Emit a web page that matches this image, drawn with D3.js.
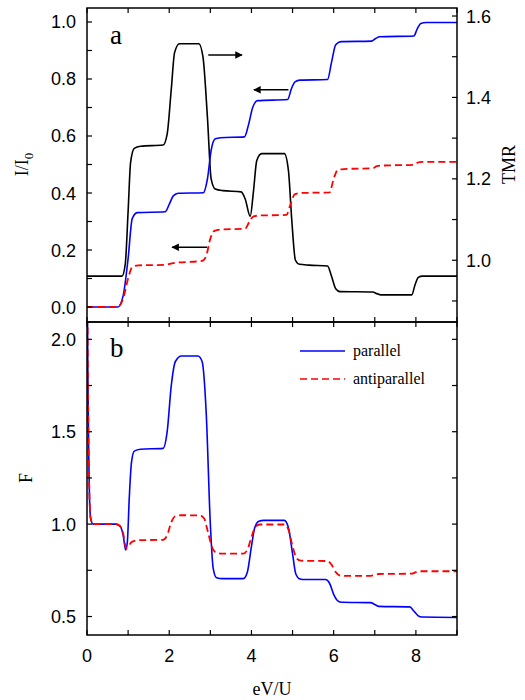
<!DOCTYPE html>
<html>
<head>
<meta charset="utf-8">
<script src="https://cdn.jsdelivr.net/npm/d3@7"></script>
<style>
  body { margin: 0; background: #fff; }
  svg { display: block; }
  .tick-label { font-family: "Liberation Sans", Arial, sans-serif; font-size: 18px; fill: #000; }
  .title { font-family: "Liberation Serif", "Times New Roman", serif; font-size: 18px; fill: #000; }
</style>
</head>
<body>
<div id="chart"></div>
<script>
// Panel a: current of the parallel (P) and antiparallel (AP) set-up, and TMR
var currentP = [[0,0],[0.75,0],[0.88,0.04],[1.0,0.17],[1.1,0.31],[1.22,0.331],[1.9,0.334],[2.0,0.36],[2.1,0.39],[2.22,0.399],[2.83,0.401],[2.93,0.45],[3.02,0.55],[3.12,0.59],[3.25,0.594],[3.83,0.597],[3.93,0.64],[4.03,0.7],[4.15,0.724],[4.88,0.728],[4.97,0.765],[5.06,0.79],[5.18,0.796],[5.85,0.798],[5.95,0.86],[6.05,0.92],[6.18,0.931],[6.92,0.933],[7.02,0.942],[7.12,0.948],[7.95,0.951],[8.03,0.975],[8.12,0.995],[8.25,0.998],[9,0.998]];
var currentAP = [[0,0],[0.75,0],[0.88,0.03],[1.0,0.1],[1.1,0.14],[1.25,0.146],[1.9,0.148],[2.1,0.154],[2.8,0.162],[2.9,0.18],[3.0,0.24],[3.1,0.267],[3.25,0.272],[3.85,0.275],[3.95,0.3],[4.05,0.318],[4.2,0.321],[4.85,0.323],[4.95,0.36],[5.05,0.395],[5.2,0.4],[5.9,0.402],[6.0,0.45],[6.1,0.481],[6.25,0.484],[6.95,0.487],[7.05,0.494],[7.15,0.496],[7.95,0.499],[8.05,0.507],[8.15,0.509],[9,0.509]];
var tmr = [[0,0.961],[0.85,0.961],[0.93,0.99],[1.0,1.12],[1.06,1.24],[1.15,1.275],[1.3,1.28],[1.85,1.283],[1.95,1.31],[2.05,1.42],[2.13,1.51],[2.25,1.532],[2.72,1.532],[2.82,1.5],[2.93,1.35],[3.02,1.2],[3.12,1.175],[3.3,1.171],[3.75,1.168],[3.85,1.15],[3.97,1.108],[4.05,1.17],[4.13,1.245],[4.25,1.262],[4.8,1.262],[4.9,1.22],[4.98,1.1],[5.07,1.0],[5.17,0.99],[5.4,0.988],[5.85,0.986],[5.95,0.96],[6.05,0.93],[6.15,0.923],[6.95,0.922],[7.05,0.918],[7.15,0.915],[7.9,0.915],[7.98,0.94],[8.06,0.958],[8.16,0.961],[9,0.961]];

// Panel b: Fano factor
var fanoP = [[0,2.6],[0.02,1.85],[0.04,1.4],[0.06,1.15],[0.09,1.03],[0.15,1.0],[0.7,1.0],[0.8,0.99],[0.88,0.94],[0.94,0.86],[0.98,0.9],[1.03,1.15],[1.08,1.33],[1.15,1.395],[1.3,1.405],[1.85,1.41],[1.95,1.5],[2.05,1.75],[2.15,1.88],[2.3,1.91],[2.7,1.91],[2.8,1.88],[2.9,1.6],[3.0,1.0],[3.07,0.76],[3.15,0.71],[3.3,0.705],[3.8,0.705],[3.9,0.74],[4.0,0.88],[4.08,0.98],[4.18,1.015],[4.3,1.02],[4.8,1.02],[4.9,0.98],[5.0,0.84],[5.08,0.73],[5.18,0.703],[5.3,0.7],[5.8,0.7],[5.9,0.68],[6.0,0.62],[6.1,0.585],[6.2,0.577],[6.9,0.575],[7.0,0.565],[7.1,0.555],[7.85,0.552],[7.95,0.53],[8.05,0.505],[8.15,0.497],[9,0.495]];
var fanoAP = [[0,2.6],[0.02,1.85],[0.04,1.4],[0.06,1.15],[0.09,1.03],[0.15,1.0],[0.7,1.0],[0.8,0.99],[0.88,0.95],[0.95,0.87],[1.0,0.88],[1.1,0.905],[1.25,0.913],[1.85,0.915],[1.95,0.94],[2.05,1.01],[2.15,1.043],[2.3,1.048],[2.75,1.047],[2.85,1.03],[2.95,0.95],[3.05,0.87],[3.15,0.845],[3.3,0.84],[3.8,0.84],[3.9,0.86],[4.0,0.93],[4.1,0.985],[4.2,0.998],[4.8,0.998],[4.9,0.97],[5.0,0.88],[5.1,0.815],[5.2,0.802],[5.85,0.8],[5.95,0.78],[6.05,0.74],[6.15,0.722],[6.3,0.72],[6.9,0.72],[7.0,0.725],[7.1,0.73],[7.9,0.732],[8.0,0.74],[8.1,0.745],[9,0.745]];

// Ticks and labels
var xTicks = [0, 1, 2, 3, 4, 5, 6, 7, 8, 9];
var xLabels = [0, 2, 4, 6, 8];
var iTicks = [0, 0.1, 0.2, 0.3, 0.4, 0.5, 0.6, 0.7, 0.8, 0.9, 1.0];
var iLabels = [0, 0.2, 0.4, 0.6, 0.8, 1.0];
var tmrTicks = [0.9, 1.0, 1.1, 1.2, 1.3, 1.4, 1.5, 1.6];
var tmrLabels = [1.0, 1.2, 1.4, 1.6];
var fTicks = [0.5, 0.75, 1.0, 1.25, 1.5, 1.75, 2.0];
var fLabels = [0.5, 1.0, 1.5, 2.0];

// Arrows pointing to the axis of each curve: [x from, x to, I/I0]
var arrows = [[2.95, 3.77, 0.884], [4.9, 4.06, 0.762], [2.92, 2.07, 0.21]];

var width = 525, height = 700;
var left = 87, right = 457;
var topA = 8, botA = 322, topB = 322, botB = 635;

var svg = d3.select("#chart").append("svg")
    .attr("width", width)
    .attr("height", height);

var x = d3.scaleLinear().domain([0, 9]).range([left, right]);
var yI = d3.scaleLinear().domain([-0.0526, 1.0491]).range([botA, topA]);
var yT = d3.scaleLinear().domain([0.8483, 1.6197]).range([botA, topA]);
var yF = d3.scaleLinear().domain([0.4, 2.0937]).range([botB, topB]);

var defs = svg.append("defs");
defs.append("clipPath").attr("id", "clipA")
    .append("rect").attr("x", left).attr("y", topA).attr("width", right - left).attr("height", botA - topA);
defs.append("clipPath").attr("id", "clipB")
    .append("rect").attr("x", left).attr("y", topB).attr("width", right - left).attr("height", botB - topB);
defs.append("marker")
    .attr("id", "head")
    .attr("viewBox", "0 0 10 10")
    .attr("refX", 9).attr("refY", 5)
    .attr("markerWidth", 7).attr("markerHeight", 5)
    .attr("markerUnits", "strokeWidth")
    .attr("orient", "auto")
  .append("path")
    .attr("d", "M0,0 L10,5 L0,10 Z")
    .attr("fill", "#000");

function drawLine(g, data, yScale, color, dash, w) {
    var line = d3.line()
        .x(function(d) { return x(d[0]); })
        .y(function(d) { return yScale(d[1]); })
        .curve(d3.curveMonotoneX);
    g.append("path")
        .datum(data)
        .attr("d", line)
        .attr("fill", "none")
        .attr("stroke", color)
        .attr("stroke-width", w)
        .attr("stroke-dasharray", dash);
}

// Inward ticks on all four sides of a panel
function frameTicks(g, yScale, yVals, yTop, yBot, rightScale, rightVals) {
    var t = 5;
    g.selectAll(".xb").data(xTicks).enter().append("line")
        .attr("x1", function(d) { return x(d); }).attr("x2", function(d) { return x(d); })
        .attr("y1", yBot).attr("y2", yBot - t);
    g.selectAll(".xt").data(xTicks).enter().append("line")
        .attr("x1", function(d) { return x(d); }).attr("x2", function(d) { return x(d); })
        .attr("y1", yTop).attr("y2", yTop + t);
    g.selectAll(".yl").data(yVals).enter().append("line")
        .attr("x1", left).attr("x2", left + t)
        .attr("y1", function(d) { return yScale(d); }).attr("y2", function(d) { return yScale(d); });
    g.selectAll(".yr").data(rightVals).enter().append("line")
        .attr("x1", right).attr("x2", right - t)
        .attr("y1", function(d) { return rightScale(d); }).attr("y2", function(d) { return rightScale(d); });
    g.selectAll("line").attr("stroke", "#000").attr("stroke-width", 1.2);
    g.append("rect")
        .attr("x", left).attr("y", yTop)
        .attr("width", right - left).attr("height", yBot - yTop)
        .attr("fill", "none").attr("stroke", "#000").attr("stroke-width", 1.5);
}

// ---- panel a ----
var gA = svg.append("g");
var curvesA = gA.append("g").attr("clip-path", "url(#clipA)");
drawLine(curvesA, tmr, yT, "#000", null, 1.6);
drawLine(curvesA, currentP, yI, "#0000ff", null, 1.6);
drawLine(curvesA, currentAP, yI, "#ff0000", "7,4", 1.8);
frameTicks(gA.append("g"), yI, iTicks, topA, botA, yT, tmrTicks);

gA.selectAll(".arrow").data(arrows).enter().append("line")
    .attr("x1", function(d) { return x(d[0]); })
    .attr("x2", function(d) { return x(d[1]); })
    .attr("y1", function(d) { return yI(d[2]); })
    .attr("y2", function(d) { return yI(d[2]); })
    .attr("stroke", "#000").attr("stroke-width", 1.5)
    .attr("marker-end", "url(#head)");

gA.selectAll(".li").data(iLabels).enter().append("text")
    .attr("class", "tick-label")
    .attr("x", left - 11)
    .attr("y", function(d) { return yI(d) + 6.5; })
    .attr("text-anchor", "end")
    .text(function(d) { return d.toFixed(1); });
gA.selectAll(".lt").data(tmrLabels).enter().append("text")
    .attr("class", "tick-label")
    .attr("x", right + 9)
    .attr("y", function(d) { return yT(d) + 6.5; })
    .text(function(d) { return d.toFixed(1); });

gA.append("text").attr("class", "title")
    .attr("x", 110).attr("y", 44)
    .style("font-size", "27px")
    .text("a");

var iTitle = gA.append("text").attr("class", "title")
    .attr("transform", "translate(28," + (yI(0.5)) + ") rotate(-90)")
    .attr("text-anchor", "middle");
iTitle.append("tspan").text("I/I");
iTitle.append("tspan").attr("dy", 5).style("font-size", "13px").text("0");

gA.append("text").attr("class", "title")
    .attr("transform", "translate(515," + (yI(0.5)) + ") rotate(-90)")
    .attr("text-anchor", "middle")
    .text("TMR");

// ---- panel b ----
var gB = svg.append("g");
var curvesB = gB.append("g").attr("clip-path", "url(#clipB)");
drawLine(curvesB, fanoP, yF, "#0000ff", null, 1.6);
drawLine(curvesB, fanoAP, yF, "#ff0000", "7,4", 1.8);
frameTicks(gB.append("g"), yF, fTicks, topB, botB, yF, fTicks);

gB.selectAll(".lf").data(fLabels).enter().append("text")
    .attr("class", "tick-label")
    .attr("x", left - 11)
    .attr("y", function(d) { return yF(d) + 6.5; })
    .attr("text-anchor", "end")
    .text(function(d) { return d.toFixed(1); });
gB.selectAll(".lx").data(xLabels).enter().append("text")
    .attr("class", "tick-label")
    .attr("x", function(d) { return x(d); })
    .attr("y", botB + 27)
    .attr("text-anchor", "middle")
    .text(function(d) { return d; });

gB.append("text").attr("class", "title")
    .attr("x", 110).attr("y", 357)
    .style("font-size", "27px")
    .text("b");

gB.append("text").attr("class", "title")
    .attr("transform", "translate(32," + (yF(1.25)) + ") rotate(-90)")
    .attr("text-anchor", "middle")
    .text("F");

svg.append("text").attr("class", "title")
    .attr("x", x(4.5)).attr("y", 695)
    .attr("text-anchor", "middle")
    .text("eV/U");

// legend
var legend = gB.append("g").attr("transform", "translate(300,351)");
var legendItems = [["parallel", "#0000ff", null], ["antiparallel", "#ff0000", "7,4"]];
legendItems.forEach(function(item, i) {
    legend.append("line")
        .attr("x1", 0).attr("x2", 45)
        .attr("y1", i * 28).attr("y2", i * 28)
        .attr("stroke", item[1]).attr("stroke-width", 1.6)
        .attr("stroke-dasharray", item[2]);
    legend.append("text").attr("class", "title")
        .style("font-size", "16px")
        .attr("x", 53).attr("y", i * 28 + 5)
        .text(item[0]);
});
</script>
</body>
</html>
